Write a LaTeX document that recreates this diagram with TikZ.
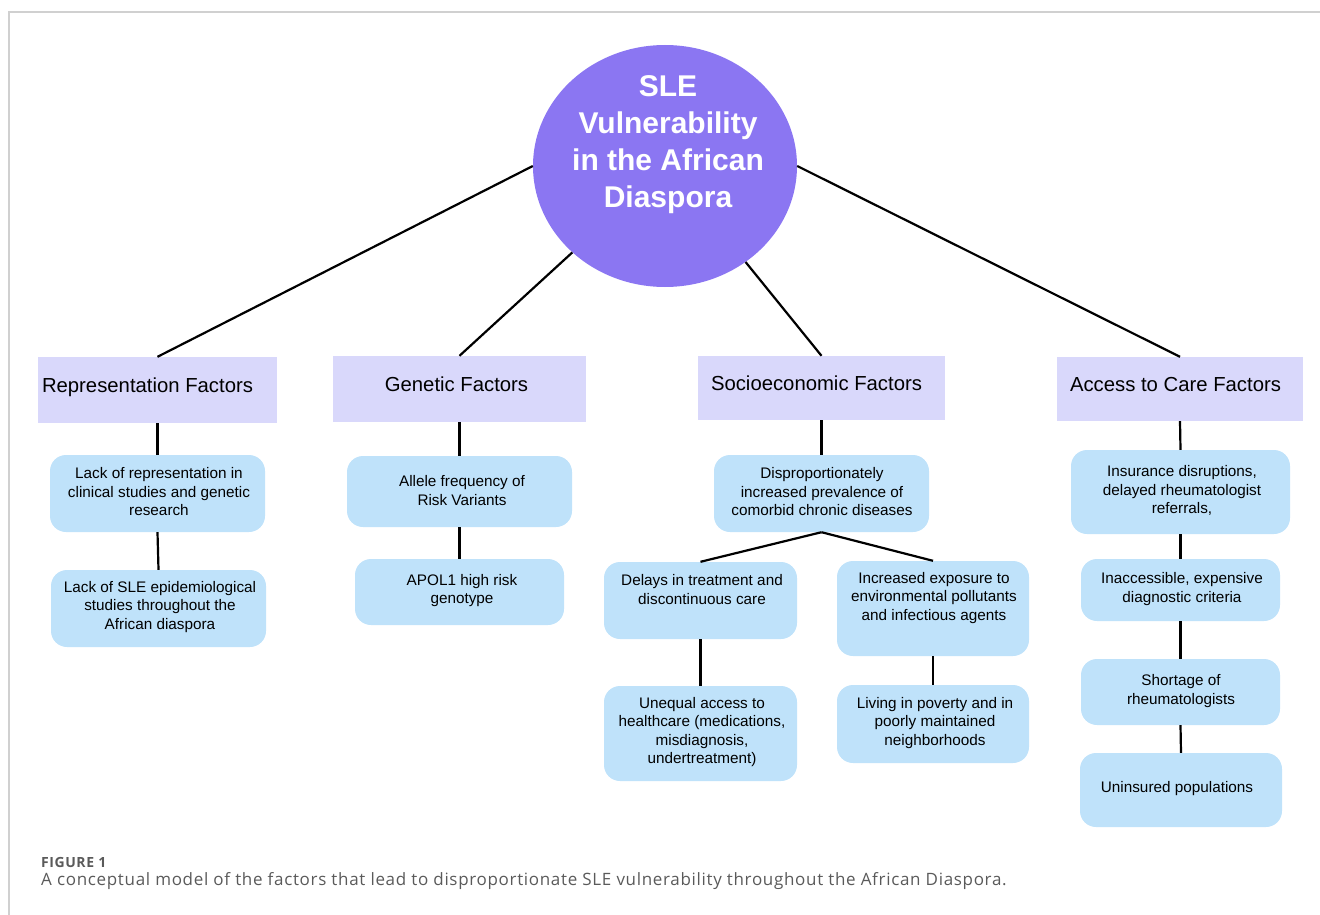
\documentclass[tikz,border=0pt]{standalone}
\usepackage{fontspec}
\setmainfont{Liberation Sans}
\newfontfamily\capfont[LetterSpace=4]{Open Sans}
\usetikzlibrary{shapes.geometric}
\definecolor{circfill}{HTML}{8B76F2}
\definecolor{catfill}{HTML}{D9D8FB}
\definecolor{subfill}{HTML}{BFE2FA}
\definecolor{framegray}{HTML}{D0D0D0}
\definecolor{capgray}{HTML}{5A5A5A}
\tikzset{
  cat/.style={rectangle, fill=catfill, inner sep=0pt},
  sub/.style={rectangle, rounded corners=16pt, fill=subfill, inner sep=0pt},
  cattext/.style={font=\fontsize{20.3}{24}\selectfont, inner sep=0pt, text height=0.75em, text depth=0.25em},
  subtext/.style={font=\fontsize{15.3}{18.5}\selectfont, align=center, inner sep=0pt},
  link/.style={draw=black, line width=2.2pt},
}
\begin{document}
\begin{tikzpicture}[x=1pt,y=-1pt]
\useasboundingbox (0,0) rectangle (1320,915);
% frame
\draw[framegray, line width=1.5pt] (9,915) -- (9,12) -- (1320,12);

% central ellipse
\node[ellipse, fill=circfill, minimum width=264pt, minimum height=242pt, inner sep=0pt] (sle) at (665,166) {};
\node[font=\fontsize{30}{37}\bfseries\selectfont, text=white, align=center, inner sep=0pt] (sletext) at (668,145) {SLE\\Vulnerability\\in the African\\Diaspora};

% category boxes
\node[cat, minimum width=239pt, minimum height=66pt] (rep) at (157.5,390) {};
\node[cat, minimum width=253pt, minimum height=66pt] (gen) at (459.5,389) {};
\node[cat, minimum width=247pt, minimum height=64pt] (soc) at (821.5,388) {};
\node[cat, minimum width=246pt, minimum height=64pt] (acc) at (1180,389) {};
\node[cattext] (reptext) at (147.5,390) {Representation Factors};
\node[cattext] (gentext) at (456.5,389) {Genetic Factors};
\node[cattext] (soctext) at (816.5,388) {Socioeconomic Factors};
\node[cattext] (acctext) at (1175.5,389) {Access to Care Factors};

% sub boxes
\node[sub, minimum width=215pt, minimum height=77pt] (a1) at (157.5,493.5) {};
\node[sub, minimum width=215pt, minimum height=77pt] (a2) at (158.5,608.5) {};
\node[sub, minimum width=225pt, minimum height=71pt] (b1) at (459.5,491.5) {};
\node[sub, minimum width=209pt, minimum height=66pt] (b2) at (459.5,592) {};
\node[sub, minimum width=215pt, minimum height=77pt] (c1) at (821.5,493.5) {};
\node[sub, minimum width=193pt, minimum height=77pt] (c2) at (700.5,600.5) {};
\node[sub, minimum width=192pt, minimum height=95pt] (c3) at (933,608.5) {};
\node[sub, minimum width=193pt, minimum height=95pt] (c4) at (700.5,733.5) {};
\node[sub, minimum width=192pt, minimum height=78pt] (c5) at (933,724) {};
\node[sub, minimum width=219pt, minimum height=84pt] (d1) at (1180.5,492) {};
\node[sub, minimum width=199pt, minimum height=62pt] (d2) at (1180.5,590) {};
\node[sub, minimum width=199pt, minimum height=66pt] (d3) at (1180.5,692) {};
\node[sub, minimum width=202pt, minimum height=74pt] (d4) at (1181,790) {};

% sub texts
\node[subtext] (a1t) at (159,492) {Lack of representation in\\clinical studies and genetic\\research};
\node[subtext] (a2t) at (160,607) {Lack of SLE epidemiological\\studies throughout the\\African diaspora};
\node[subtext] (b1t) at (462,490.5) {Allele frequency of\\Risk Variants};
\node[subtext] (b2t) at (462,590.5) {APOL1 high risk\\genotype};
\node[subtext] (c1t) at (822,492) {Disproportionately\\increased prevalence of\\comorbid chronic diseases};
\node[subtext] (c2t) at (702,589.5) {Delays in treatment and\\discontinuous care};
\node[subtext] (c3t) at (934,598) {Increased exposure to\\environmental pollutants\\and infectious agents};
\node[subtext] (c4t) at (702,732) {Unequal access to\\healthcare (medications,\\misdiagnosis,\\undertreatment)};
\node[subtext] (c5t) at (935,723) {Living in poverty and in\\poorly maintained\\neighborhoods};
\node[subtext] (d1t) at (1182,490.5) {Insurance disruptions,\\delayed rheumatologist\\referrals,};
\node[subtext] (d2t) at (1182,589) {Inaccessible, expensive\\diagnostic criteria};
\node[subtext] (d3t) at (1181,691) {Shortage of\\rheumatologists};
\node[subtext] (d4t) at (1177,789) {Uninsured populations};

% connectors
\draw[link] (sle.180) -- (rep.north);
\draw[link] (sle.223) -- (gen.north);
\draw[link] (sle.310) -- (soc.north);
\draw[link] (sle.0) -- (acc.north);
\draw[link] (rep.south) -- (a1.north);
\draw[link] (a1.south) -- (a2.north);
\draw[link] (gen.south) -- (b1.north);
\draw[link] (b1.south) -- (b2.north);
\draw[link] (soc.south) -- (c1.north);
\draw[link] (c1.south) -- (c2.north);
\draw[link] (c1.south) -- (c3.north);
\draw[link] (c2.south) -- (c4.north);
\draw[link] (c3.south) -- (c5.north);
\draw[link] (acc.south) -- (d1.north);
\draw[link] (d1.south) -- (d2.north);
\draw[link] (d2.south) -- (d3.north);
\draw[link] (d3.south) -- (d4.north);

% caption
\node[anchor=west, inner sep=0pt, text=capgray, font=\capfont\fontsize{14}{16}\bfseries\selectfont] (figlabel) at (41,862) {FIGURE 1};
\node[anchor=west, inner sep=0pt, text=capgray, font=\capfont\fontsize{17}{20}\selectfont] (caption) at (41,881) {A conceptual model of the factors that lead to disproportionate SLE vulnerability throughout the African Diaspora.};
\end{tikzpicture}
\end{document}
